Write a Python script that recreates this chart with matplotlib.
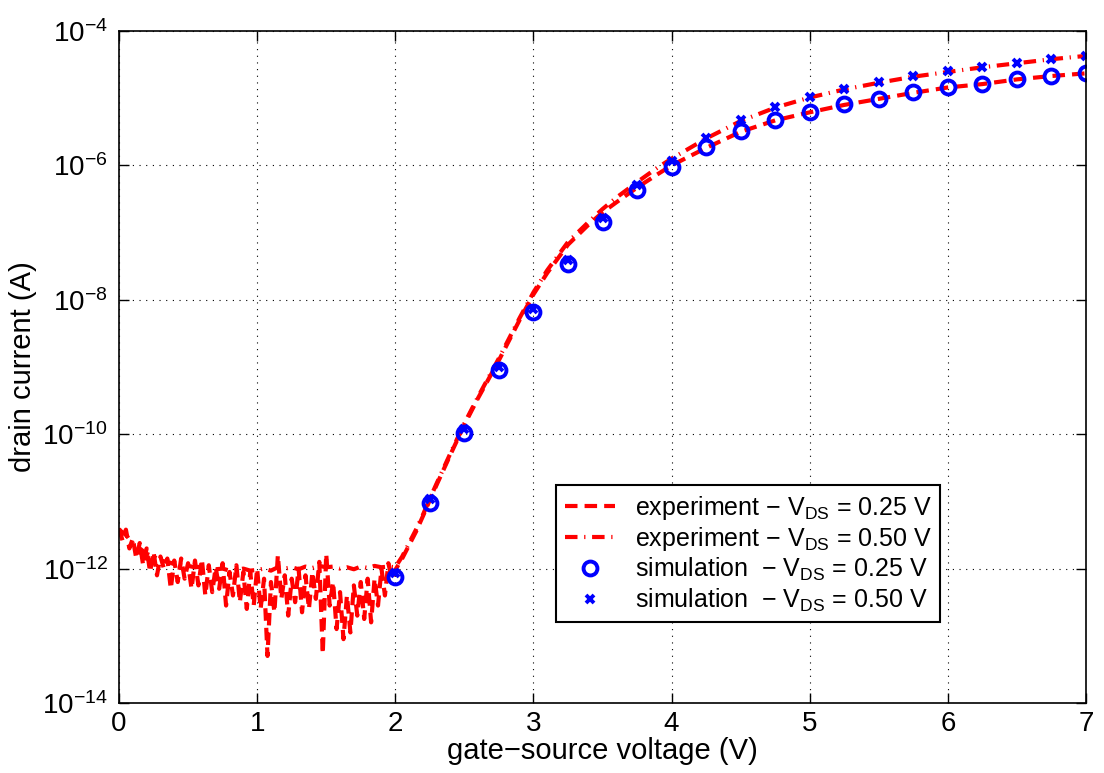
import numpy as np
import matplotlib
matplotlib.use('Agg')
import matplotlib.pyplot as plt
import matplotlib.ticker as mticker

plt.rcParams['font.family'] = ['Liberation Sans', 'DejaVu Sans']
plt.rcParams['mathtext.fontset'] = 'custom'
plt.rcParams['mathtext.rm'] = 'Liberation Sans'
plt.rcParams['mathtext.it'] = 'Liberation Sans'

# experiment, VDS = 0.25 V (log10 of current)
v_noise = [0.000, 0.025, 0.050, 0.075, 0.100, 0.125, 0.150, 0.175, 0.200, 0.225,
           0.250, 0.275, 0.300, 0.325, 0.350, 0.375, 0.400, 0.425, 0.450, 0.475,
           0.500, 0.525, 0.550, 0.575, 0.600, 0.625, 0.650, 0.675, 0.700, 0.725,
           0.750, 0.775, 0.800, 0.825, 0.850, 0.875, 0.900, 0.925, 0.950, 0.975,
           1.000, 1.025, 1.050, 1.075, 1.100, 1.125, 1.150, 1.175, 1.200, 1.225,
           1.250, 1.275, 1.300, 1.325, 1.350, 1.375, 1.400, 1.425, 1.450, 1.475,
           1.500, 1.525, 1.550, 1.575, 1.600, 1.625, 1.650, 1.675, 1.700, 1.725,
           1.750, 1.775, 1.800, 1.825, 1.850, 1.875, 1.900, 1.925, 1.950, 1.975]
log_exp1_noise = [-11.40, -11.58, -11.42, -11.70, -11.55, -11.85, -11.62, -11.95, -11.70, -12.05,
                  -11.75, -12.10, -11.82, -12.00, -11.85, -12.30, -11.88, -12.20, -11.85, -12.15,
                  -11.92, -12.30, -11.88, -12.25, -11.86, -12.40, -11.95, -12.35, -11.98, -12.30,
                  -11.92, -12.55, -12.05, -12.40, -11.95, -12.50, -12.05, -12.60, -12.05, -12.55,
                  -12.00, -12.60, -12.15, -13.30, -12.20, -12.65, -11.80, -12.45, -12.10, -12.70,
                  -12.15, -12.50, -12.00, -12.65, -12.10, -12.60, -12.05, -12.45, -11.90, -13.27,
                  -11.78, -12.55, -12.20, -12.90, -12.35, -13.05, -12.40, -12.95, -12.25, -12.70,
                  -12.20, -12.75, -12.15, -12.80, -12.15, -12.55, -12.00, -12.40, -11.92, -12.15]
v_on = [2.00, 2.05, 2.10, 2.15, 2.20, 2.25, 2.30, 2.40, 2.50, 2.60, 2.75, 2.90, 3.00,
        3.10, 3.25, 3.40, 3.50, 3.60, 3.75, 3.90, 4.00, 4.25, 4.50, 4.75, 5.00, 5.25,
        5.50, 5.75, 6.00, 6.25, 6.50, 6.75, 7.00]
log_exp1_on = [-12.02, -11.85, -11.65, -11.45, -11.22, -10.98, -10.75, -10.30, -9.86, -9.46,
               -8.90, -8.30, -7.92, -7.60, -7.18, -6.88, -6.70, -6.55, -6.33, -6.13, -6.00,
               -5.74, -5.50, -5.33, -5.21, -5.10, -5.01, -4.92, -4.84, -4.79, -4.72, -4.67, -4.63]

# experiment, VDS = 0.50 V
v_noise2 = [0.00, 0.05, 0.10, 0.15, 0.20, 0.25, 0.30, 0.35, 0.40, 0.45, 0.50, 0.55, 0.60,
            0.65, 0.70, 0.75, 0.80, 0.85, 0.90, 0.95, 1.00, 1.05, 1.10, 1.15, 1.20, 1.25,
            1.30, 1.35, 1.40, 1.45, 1.50, 1.55, 1.60, 1.65, 1.70, 1.75, 1.80, 1.85, 1.90, 1.95]
log_exp2_noise = [-11.42, -11.50, -11.62, -11.70, -11.78, -11.82, -11.88, -11.90, -11.93, -11.95,
                  -11.96, -11.98, -11.97, -12.00, -12.01, -12.00, -12.03, -12.02, -12.00, -12.03,
                  -12.02, -12.00, -12.03, -11.98, -12.00, -11.98, -12.01, -11.97, -11.99, -11.96,
                  -11.98, -11.97, -12.00, -11.98, -12.01, -11.97, -11.99, -11.96, -11.98, -11.97]
log_exp2_on = [-11.98, -11.82, -11.62, -11.42, -11.20, -10.96, -10.73, -10.28, -9.84, -9.44,
               -8.87, -8.27, -7.89, -7.56, -7.14, -6.84, -6.65, -6.48, -6.25, -6.03, -5.90,
               -5.60, -5.34, -5.14, -4.99, -4.87, -4.77, -4.68, -4.61, -4.54, -4.48, -4.42, -4.37]

# simulations
v_sim = [2.00, 2.25, 2.50, 2.75, 3.00, 3.25, 3.50, 3.75, 4.00, 4.25, 4.50, 4.75, 5.00,
         5.25, 5.50, 5.75, 6.00, 6.25, 6.50, 6.75, 7.00]
log_sim1 = [-12.12, -11.02, -9.98, -9.05, -8.18, -7.47, -6.84, -6.37, -6.02, -5.73, -5.49,
            -5.32, -5.21, -5.09, -5.01, -4.91, -4.83, -4.79, -4.71, -4.67, -4.63]
log_sim2 = [-12.07, -10.97, -9.93, -9.00, -8.13, -7.41, -6.78, -6.29, -5.93, -5.59, -5.32,
            -5.13, -4.98, -4.86, -4.76, -4.67, -4.60, -4.54, -4.48, -4.42, -4.37]

v1 = np.array(v_noise + v_on)
i1 = 10.0 ** np.array(log_exp1_noise + log_exp1_on)
v2 = np.array(v_noise2 + v_on)
i2 = 10.0 ** np.array(log_exp2_noise + log_exp2_on)

fig = plt.figure(figsize=(11.04, 7.73), dpi=100)
ax = fig.add_axes([119/1104, 1-703/773, (1086-119)/1104, (703-31)/773])

ax.semilogy(v1, i1, color='red', lw=3, dashes=(3, 1.7),
            label=r'experiment $-$ V$_{\mathrm{DS}}$ = 0.25 V')
ax.semilogy(v2, i2, color='red', lw=3, dashes=(3, 1.6, 0.3, 1.6),
            label=r'experiment $-$ V$_{\mathrm{DS}}$ = 0.50 V')
ax.semilogy(v_sim, 10.0 ** np.array(log_sim1), 'o', ms=10, mfc='none', mec='blue', mew=2.8,
            label=r'simulation  $-$ V$_{\mathrm{DS}}$ = 0.25 V')
ax.semilogy(v_sim, 10.0 ** np.array(log_sim2), 'x', ms=6, mec='blue', mew=2.8,
            label=r'simulation  $-$ V$_{\mathrm{DS}}$ = 0.50 V')

ax.set_xlim(0, 7)
ax.set_ylim(1e-14, 1e-4)
ax.set_yticks([1e-14, 1e-12, 1e-10, 1e-8, 1e-6, 1e-4])
ax.yaxis.set_minor_locator(mticker.NullLocator())
ax.tick_params(direction='in', top=True, right=True, labelsize=20, length=7, width=1)
ax.tick_params(axis='x', pad=6)
ax.tick_params(axis='y', pad=8)
ax.grid(True, which='major', linestyle=(0, (1, 5)), color='black', lw=0.8)
for s in ax.spines.values():
    s.set_linewidth(1.2)

ax.set_xlabel('gate\u2212source voltage (V)', fontsize=21, labelpad=0)
ax.set_ylabel('drain current (A)', fontsize=21, labelpad=4)

leg = ax.legend(loc='lower left', bbox_to_anchor=(0.452, 0.12), borderaxespad=0,
                fontsize=18, fancybox=False, framealpha=1, edgecolor='black',
                handlelength=2.0, borderpad=0.35, labelspacing=0.12, handletextpad=0.8)
leg.get_frame().set_linewidth(1.5)

fig.savefig('out.png', dpi=100)
